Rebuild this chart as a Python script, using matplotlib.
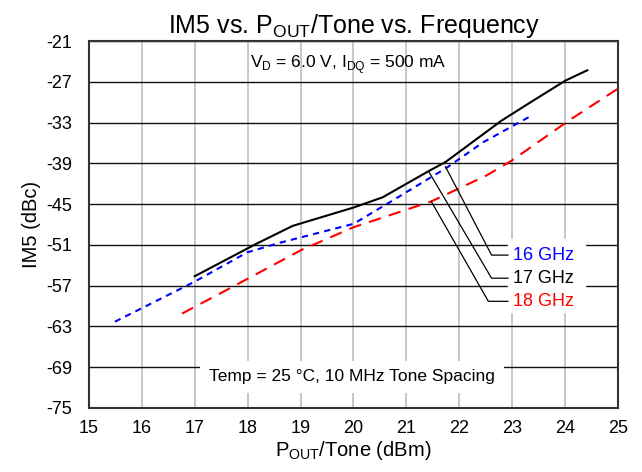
import matplotlib
matplotlib.use("Agg")
import matplotlib.pyplot as plt

plt.rcParams["font.family"] = ["Liberation Sans", "DejaVu Sans"]
plt.rcParams["axes.unicode_minus"] = False

# 16 GHz (blue, short dash)
x16 = [15.49, 17.0, 17.99, 18.6, 20.0, 20.69, 21.77, 22.45, 23.36]
y16 = [-62.3, -56.4, -52.1, -50.7, -47.9, -44.7, -39.6, -35.9, -32.0]
# 17 GHz (black, solid)
x17 = [17.0, 18.16, 18.85, 20.0, 20.55, 21.43, 21.74, 22.80, 23.39, 24.01, 24.42]
y17 = [-55.6, -50.85, -48.2, -45.5, -44.0, -40.1, -38.8, -32.7, -29.8, -26.8, -25.3]
# 18 GHz (red, long dash)
x18 = [16.76, 17.78, 19.0, 20.0, 21.47, 22.51, 22.99, 24.07, 25.0]
y18 = [-61.1, -56.9, -51.8, -48.4, -44.6, -40.8, -38.6, -32.7, -28.0]

xticks = list(range(15, 26))
yticks = list(range(-75, -20, 6))

fig = plt.figure(figsize=(6.42, 4.72), dpi=100)
ax = fig.add_axes([0.1386, 0.1356, 0.8240, 0.7774])
ax.set_xlim(15, 25)
ax.set_ylim(-75, -21)
ax.set_xticks(xticks)
ax.set_yticks(yticks)
ax.tick_params(length=0, labelsize=13)
ax.tick_params(axis="x", pad=9)
ax.tick_params(axis="y", pad=12)
for s in ax.spines.values():
    s.set_color("#333333")
    s.set_linewidth(1.5)
ax.set_axisbelow(True)
ax.grid(axis="x", color="#c4c4c4", lw=1.3)
ax.grid(axis="y", color="#111111", lw=1.0)

ax.plot(x17, y17, color="black", lw=1.5, zorder=3)
ax.plot(x16, y16, color="blue", lw=1.5, dashes=(3, 2.5), zorder=3)
ax.plot(x18, y18, color="red", lw=1.5, dashes=(6, 4), zorder=3)

# leader lines to labels
lead = [((21.74, -39.5), (22.61, -52.5), "16 GHz", "blue"),
        ((21.43, -40.3), (22.61, -55.9), "17 GHz", "black"),
        ((21.47, -44.6), (22.55, -59.3), "18 GHz", "red")]
ax.fill_between([22.93, 24.38], -60.9, -50.2, color="white", zorder=2)
for (p0, p1, lab, c) in lead:
    ax.plot([p0[0], p1[0], 22.92], [p0[1], p1[1], p1[1]], color="black",
            lw=0.9, zorder=4)
    ax.text(23.02, p1[1], lab, color=c, fontsize=13, va="center", ha="left",
            zorder=5)

ax.text(19.9, -24.4, "V$_\\mathregular{D}$ = 6.0 V, I$_\\mathregular{DQ}$ = 500 mA",
        fontsize=12.5, ha="center", va="center")
ax.text(19.97, -70.4, "Temp = 25 \u00b0C, 10 MHz Tone Spacing", fontsize=12.5,
        ha="center", va="center", zorder=5,
        bbox=dict(boxstyle="square,pad=0.5", fc="white", ec="none"))

ax.set_xlabel("P$_\\mathregular{OUT}$/Tone (dBm)", fontsize=14.5, labelpad=1)
ax.set_ylabel("IM5 (dBc)", fontsize=14.5, labelpad=4)
ax.set_title("IM5 vs. P$_\\mathregular{OUT}$/Tone vs. Frequency", fontsize=18, pad=6)

fig.savefig("out.png", dpi=100)
